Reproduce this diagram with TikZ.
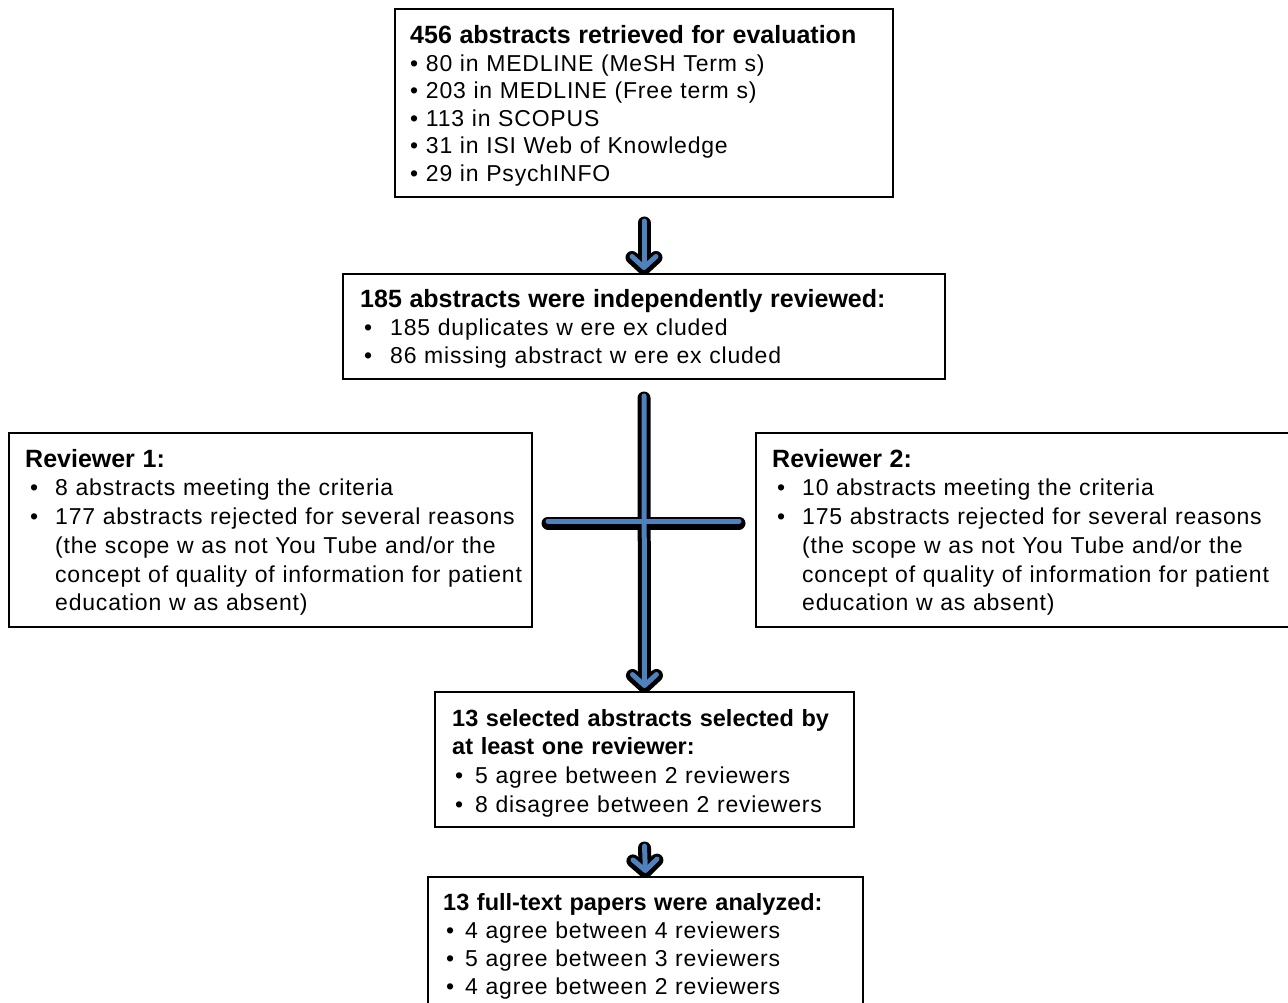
\documentclass[tikz,border=0pt]{standalone}
\usepackage{fontspec}
\setmainfont{Liberation Sans}
\newfontfamily\bodyfont{Liberation Sans}[LetterSpace=3.5]
\usetikzlibrary{arrows.meta}
\definecolor{arrblue}{HTML}{4F81BD}
\newcommand\blt[3]{\hspace*{#1pt}\makebox[#2pt][l]{•}#3}
\newcommand\cnt[1]{\hspace*{#1pt}}
\newcommand\ttl[3][25]{{\normalfont\bfseries\fontsize{#1}{#2}\selectfont #3}}
\tikzset{
  box/.style={draw=black, line width=2pt, fill=white, anchor=north west, inner sep=0pt},
  txt/.style={anchor=base west, inner sep=0pt, text width=620pt, align=left},
  shadowline/.style={draw=black, line width=13pt, line cap=round, transform canvas={yshift=-2pt}},
  blueline/.style={draw=arrblue, line width=5pt, line cap=round},
  headtip/.style={-{Straight Barb[round,length=11pt,width=24pt]}}
}
\begin{document}
\begin{tikzpicture}[x=1pt,y=-1pt]
\useasboundingbox (0,0) rectangle (1288,1003);
\clip (0,0) rectangle (1288,1003);
\fill[white] (0,0) rectangle (1288,1003);

% boxes
\node[box, minimum width=498, minimum height=188] (b1) at (394,8) {};
\node[box, minimum width=602, minimum height=105] (b2) at (342,273) {};
\node[box, minimum width=523, minimum height=194] (r1) at (8,432) {};
\node[box, minimum width=560, minimum height=194] (r2) at (755,432) {};
\node[box, minimum width=419, minimum height=135] (b3) at (434,691) {};
\node[box, minimum width=435, minimum height=150] (b4) at (427,876) {};

% texts
\node[txt, font=\bodyfont\fontsize{23}{27.5}\selectfont] (b1t) at (410,44) {%
\ttl{27.5}{456 abstracts retrieved for evaluation}\\
• 80 in MEDLINE (MeSH Term s)\\
• 203 in MEDLINE (Free term s)\\
• 113 in SCOPUS\\
• 31 in ISI Web of Knowledge\\
• 29 in PsychINFO};

\node[txt, font=\bodyfont\fontsize{23}{28}\selectfont] (b2t) at (360,307) {%
\ttl{28}{185 abstracts were independently reviewed:}\\
\blt{4}{26}{185 duplicates w ere ex cluded}\\
\blt{4}{26}{86 missing abstract w ere ex cluded}};

\node[txt, font=\bodyfont\fontsize{23}{28.75}\selectfont] (r1t) at (25,467) {%
\ttl{28.75}{Reviewer 1:}\\
\blt{5}{25}{8 abstracts meeting the criteria}\\
\blt{5}{25}{177 abstracts rejected for several reasons}\\
\cnt{30}(the scope w as not You Tube and/or the\\
\cnt{30}concept of quality of information for patient\\
\cnt{30}education w as absent)};

\node[txt, font=\bodyfont\fontsize{23}{28.75}\selectfont] (r2t) at (772,467) {%
\ttl{28.75}{Reviewer 2:}\\
\blt{5}{25}{10 abstracts meeting the criteria}\\
\blt{5}{25}{175 abstracts rejected for several reasons}\\
\cnt{30}(the scope w as not You Tube and/or the\\
\cnt{30}concept of quality of information for patient\\
\cnt{30}education w as absent)};

\node[txt, font=\bodyfont\fontsize{23}{28.7}\selectfont] (b3t) at (452,726) {%
\ttl[23.5]{28.7}{13 selected abstracts selected by}\\
\ttl[23.5]{28.7}{at least one reviewer:}\\
\blt{3}{20}{5 agree between 2 reviewers}\\
\blt{3}{20}{8 disagree between 2 reviewers}};

\node[txt, font=\bodyfont\fontsize{23}{28}\selectfont] (b4t) at (443,910) {%
\ttl[23.5]{28}{13 full-text papers were analyzed:}\\
\blt{3}{19}{4 agree between 4 reviewers}\\
\blt{3}{19}{5 agree between 3 reviewers}\\
\blt{3}{19}{4 agree between 2 reviewers}};

% connectors: shadows first
\draw[shadowline, headtip] ([yshift=-23pt]b1.south) -- (b2.north);
\draw[shadowline] ([xshift=15pt,yshift=9pt]r1.east) -- ([xshift=-16pt,yshift=9pt]r2.west);
\draw[shadowline, headtip] ([yshift=-16pt]b2.south) -- (b3.north);
\draw[shadowline, headtip] ([yshift=-18pt]b3.south) -- (b4.north);
% blue fronts
\draw[blueline, headtip] ([yshift=-23pt]b1.south) -- ([yshift=3pt]b2.north);
\draw[blueline] ([xshift=15pt,yshift=9pt]r1.east) -- ([xshift=-16pt,yshift=9pt]r2.west);
\draw[blueline, headtip] ([yshift=-16pt]b2.south) -- ([yshift=3pt]b3.north);
\draw[blueline, headtip] ([yshift=-18pt]b3.south) -- ([yshift=3pt]b4.north);
\end{tikzpicture}
\end{document}
